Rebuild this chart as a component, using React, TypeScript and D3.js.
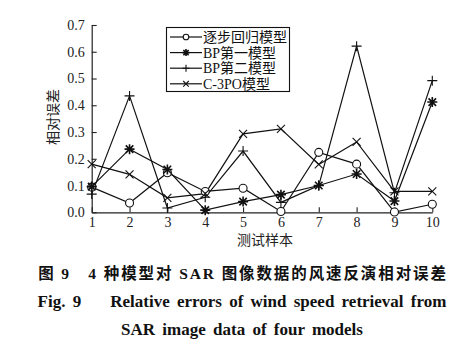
import React, { useEffect, useRef } from 'react';
import * as d3 from 'd3';

// test samples 1..10
const samples = [1, 2, 3, 4, 5, 6, 7, 8, 9, 10];
const seriesNames = ['逐步回归模型', 'BP第一模型', 'BP第二模型', 'C-3PO模型'];
const markers = ['circle', 'star', 'plus', 'cross'];

const stepwise = [0.094, 0.035, 0.148, 0.078, 0.09, 0.003, 0.224, 0.18, 0.001, 0.03];
const bp1 = [0.096, 0.236, 0.16, 0.008, 0.04, 0.066, 0.1, 0.143, 0.042, 0.412];
const bp2 = [0.068, 0.435, 0.016, 0.056, 0.229, 0.037, 0.1, 0.621, 0.073, 0.492];
const c3po = [0.18, 0.142, 0.054, 0.07, 0.293, 0.312, 0.179, 0.263, 0.078, 0.078];
const allSeries = [stepwise, bp1, bp2, c3po];

const yTicks = [0, 0.1, 0.2, 0.3, 0.4, 0.5, 0.6, 0.7];

const serif = '"Liberation Serif", "Times New Roman", serif';
const cjk = '"Liberation Serif", "Noto Sans CJK SC", serif';

function drawMarker(g: any, type: string, x: number, y: number, s: number) {
    if (type === 'circle') {
        g.append('circle').attr('cx', x).attr('cy', y).attr('r', s * 0.8)
            .attr('fill', 'white').attr('stroke', '#111').attr('stroke-width', 1.1);
    } else {
        var p = d3.path();
        if (type === 'plus' || type === 'star') {
            p.moveTo(x - s, y); p.lineTo(x + s, y);
            p.moveTo(x, y - s); p.lineTo(x, y + s);
        }
        if (type === 'cross' || type === 'star') {
            var d = type === 'star' ? s * 0.75 : s * 0.8;
            p.moveTo(x - d, y - d); p.lineTo(x + d, y + d);
            p.moveTo(x - d, y + d); p.lineTo(x + d, y - d);
        }
        g.append('path').attr('d', p.toString()).attr('fill', 'none')
            .attr('stroke', '#111').attr('stroke-width', type === 'star' ? 1.6 : 1.1);
    }
}

export default function App() {
    const ref = useRef<SVGSVGElement>(null);

    useEffect(() => {
        const svg = d3.select(ref.current);
        svg.selectAll('*').remove();

        const xScale = d3.scaleLinear().domain([1, 10]).range([91.7, 432.3]);
        const yScale = d3.scaleLinear().domain([0, 0.7]).range([212.3, 25]);

        const xAxis = svg.append('g')
            .attr('transform', `translate(0,${yScale(0)})`)
            .call(d3.axisBottom(xScale).tickValues(samples).tickFormat(d3.format('d'))
                .tickSize(-5).tickSizeOuter(0).tickPadding(5));
        const yAxis = svg.append('g')
            .attr('transform', `translate(${xScale(1)},0)`)
            .call(d3.axisLeft(yScale).tickValues(yTicks).tickFormat(d3.format('.1f'))
                .tickSize(-5).tickSizeOuter(0).tickPadding(7));
        [xAxis, yAxis].forEach(a => {
            a.selectAll('path').attr('stroke', '#222').attr('stroke-width', 1.2);
            a.selectAll('line').attr('stroke', '#222').attr('stroke-width', 1.1);
            a.selectAll('text').attr('font-family', serif).attr('font-size', 14).attr('fill', '#222');
        });

        const line = d3.line<number>()
            .x((d, i) => xScale(samples[i]))
            .y(d => yScale(d));

        allSeries.forEach((vals, k) => {
            svg.append('path').attr('d', line(vals)).attr('fill', 'none')
                .attr('stroke', '#111').attr('stroke-width', 1.2);
        });
        allSeries.forEach((vals, k) => {
            const g = svg.append('g');
            vals.forEach((v, i) => drawMarker(g, markers[k], xScale(samples[i]), yScale(v), 5));
        });

        // axis titles
        svg.append('text').attr('x', 265).attr('y', 245).attr('text-anchor', 'middle')
            .attr('font-family', cjk).attr('font-size', 14).attr('fill', '#222').text('测试样本');
        svg.append('text').attr('transform', 'translate(58,117) rotate(-90)')
            .attr('text-anchor', 'middle').attr('font-family', cjk).attr('font-size', 14)
            .attr('fill', '#222').text('相对误差');

        // legend
        const lg = svg.append('g');
        lg.append('rect').attr('x', 166.5).attr('y', 27.5).attr('width', 123).attr('height', 64)
            .attr('fill', 'white').attr('stroke', '#111').attr('stroke-width', 1.1);
        seriesNames.forEach((name, k) => {
            const y = 37 + k * 15.6;
            lg.append('line').attr('x1', 170).attr('x2', 202).attr('y1', y).attr('y2', y)
                .attr('stroke', '#111').attr('stroke-width', 1.2);
            drawMarker(lg, markers[k], 186, y, 3.5);
            lg.append('text').attr('x', 203).attr('y', y + 5).attr('font-family', cjk)
                .attr('font-size', 14).attr('fill', '#111').text(name);
        });

        // caption
        const cap = svg.append('g').attr('font-weight', 'bold').attr('fill', '#111')
            .attr('text-anchor', 'middle');
        cap.append('text').attr('x', 243).attr('y', 279).attr('font-family', cjk)
            .attr('font-size', 15.5).attr('letter-spacing', 1.9)
            .text('图 9　4 种模型对 SAR 图像数据的风速反演相对误差');
        cap.append('text').attr('x', 242).attr('y', 307).attr('font-family', serif)
            .attr('font-size', 17).attr('xml:space', 'preserve').attr('word-spacing', 3)
            .text('Fig. 9    Relative errors of wind speed retrieval from');
        cap.append('text').attr('x', 242).attr('y', 335).attr('font-family', serif)
            .attr('font-size', 17).attr('word-spacing', 3)
            .text('SAR image data of four models');
    }, []);

    return <svg ref={ref} width={472} height={364}
        style={{ position: 'absolute', left: 0, top: 0, background: 'white' }} />;
}
